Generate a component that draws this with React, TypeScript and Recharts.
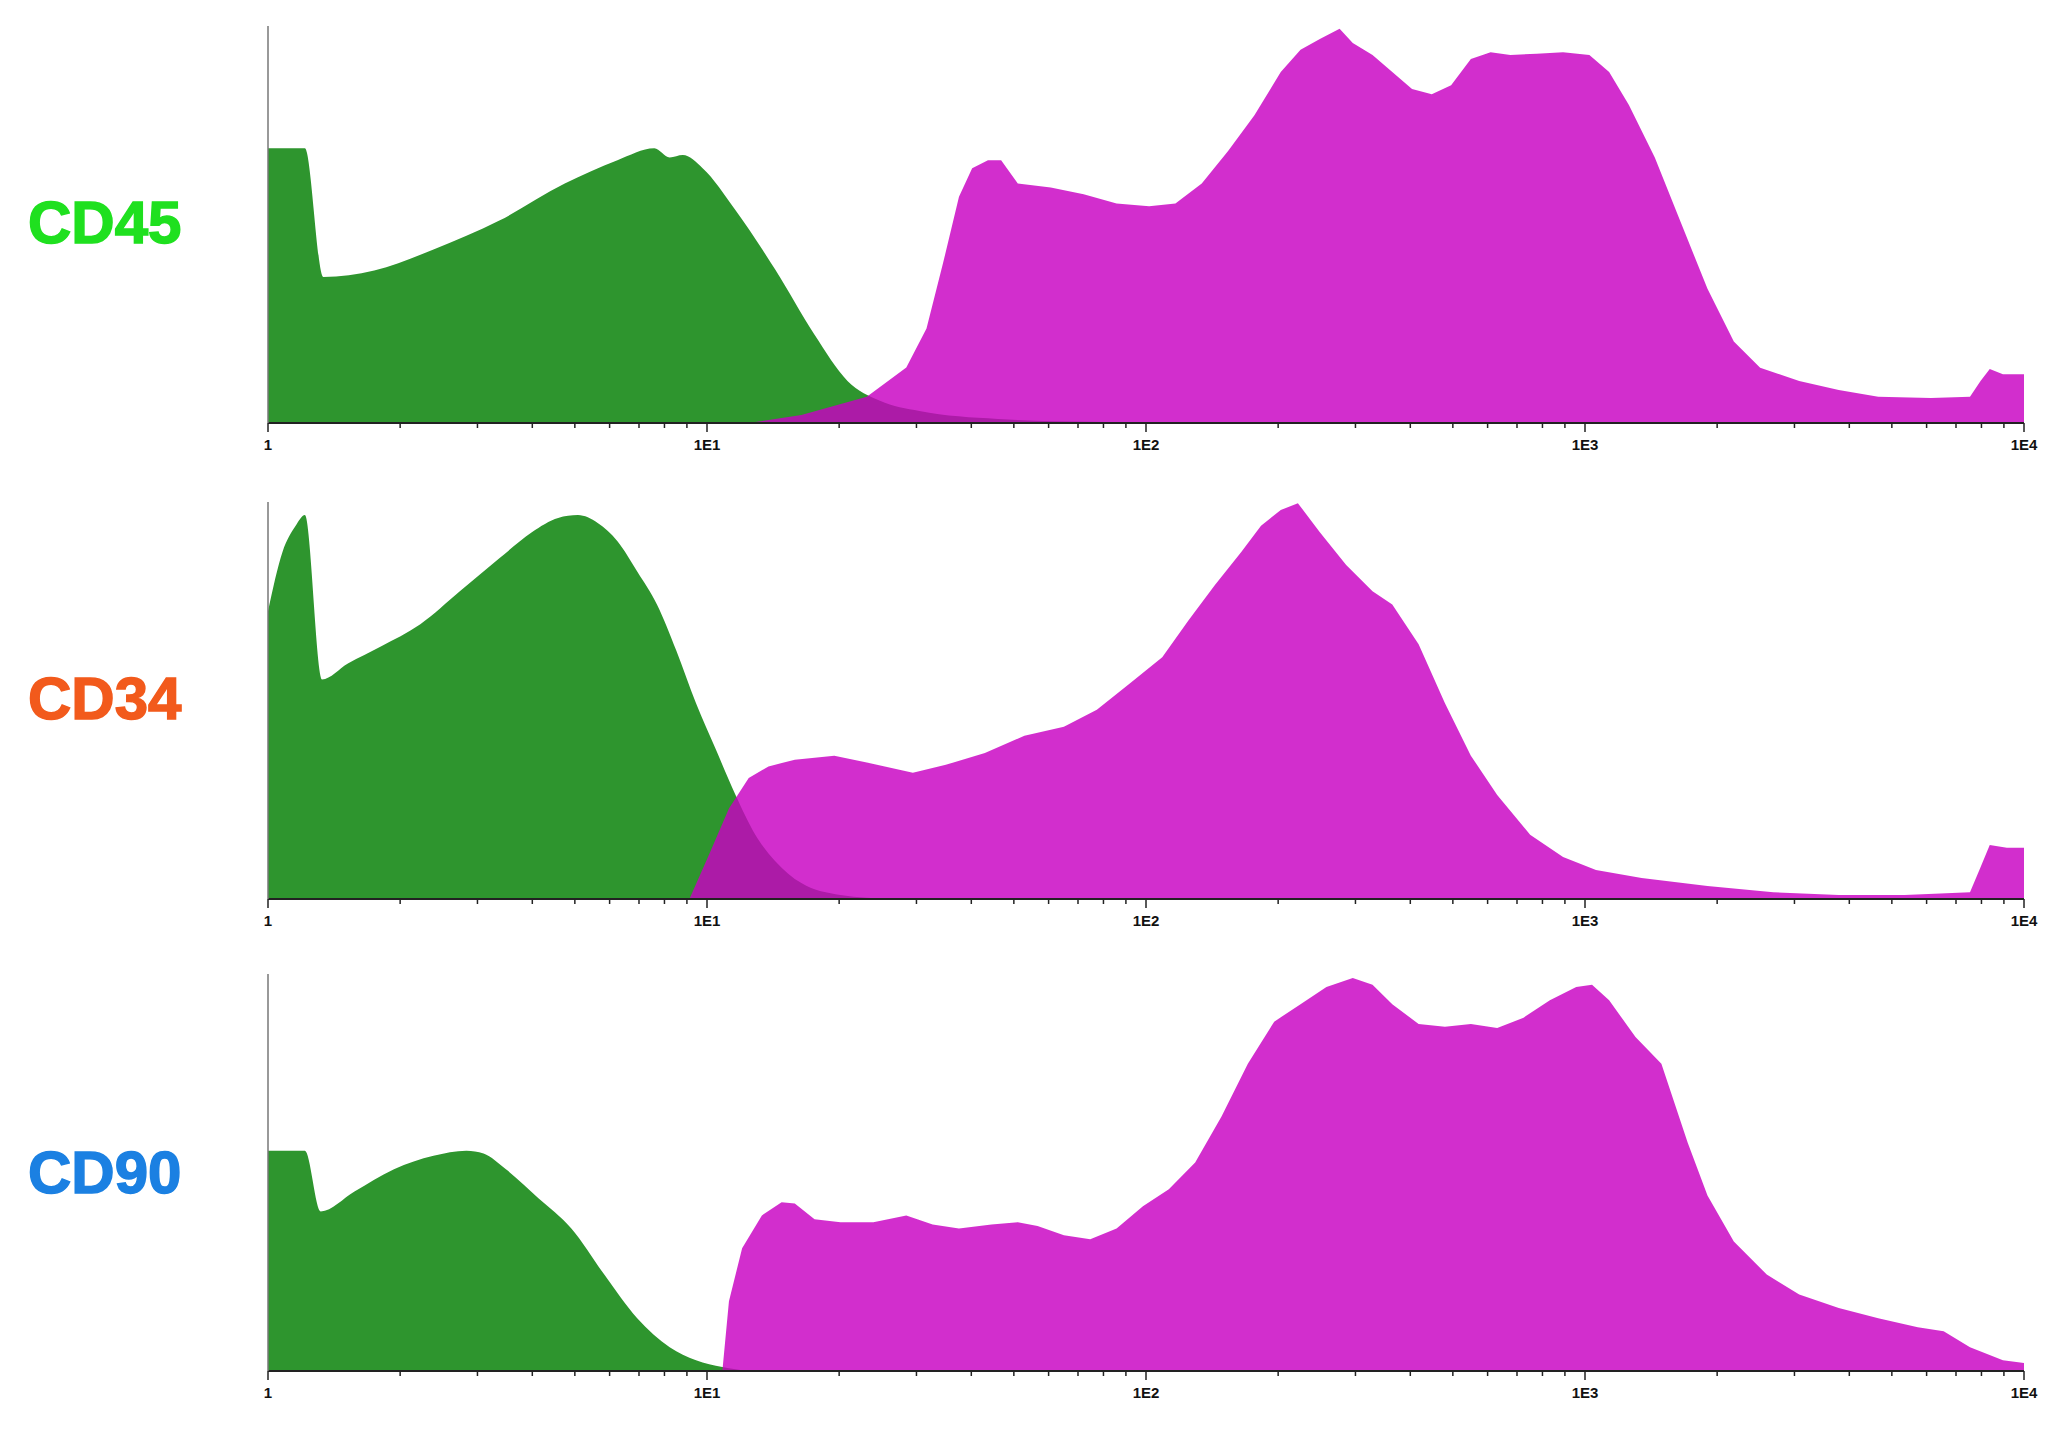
import React from 'react';
import { ComposedChart, Area, XAxis, YAxis } from 'recharts';

// x values are in decades of fluorescence (0 = 1, 4 = 1E4), y is % of panel height
const cd45NegX = [0, 0.084, 0.126, 0.242, 0.377, 0.527, 0.676, 0.796, 0.88, 0.915, 0.945, 0.99, 1.065, 1.155, 1.245, 1.32, 1.394, 1.484, 1.663, 1.873, 2.08];
const cd45NegY = [69.2, 69.2, 36.8, 38.4, 43.7, 51, 60.3, 66.2, 69.2, 66.9, 67.5, 64.2, 53.6, 38.7, 22.2, 10.6, 5.6, 3, 1, 0.3, 0];

const cd45PosX = [1.095, 1.215, 1.364, 1.454, 1.5, 1.538, 1.574, 1.604, 1.64, 1.67, 1.708, 1.783, 1.858, 1.933, 2.007, 2.067, 2.127, 2.187, 2.247, 2.307, 2.352, 2.396, 2.441, 2.471, 2.516, 2.561, 2.606, 2.651, 2.695, 2.74, 2.785, 2.83, 2.89, 2.95, 3.01, 3.055, 3.1, 3.159, 3.219, 3.279, 3.339, 3.399, 3.488, 3.578, 3.668, 3.788, 3.877, 3.901, 3.922, 3.952, 4];
const cd45PosY = [0, 2, 6.6, 14, 23.8, 40.4, 57, 64.2, 66.2, 66.2, 60.3, 59.3, 57.6, 55.3, 54.6, 55.3, 60.3, 68.5, 77.5, 88.4, 94, 96.7, 99.3, 95.7, 92.7, 88.4, 84.1, 82.8, 85.1, 91.7, 93.4, 92.7, 93, 93.4, 92.7, 88.4, 80.1, 66.9, 50.3, 33.8, 20.5, 13.9, 10.6, 8.3, 6.6, 6.3, 6.6, 10.6, 13.6, 12.3, 12.3];

const cd34NegX = [0, 0.033, 0.063, 0.084, 0.123, 0.182, 0.257, 0.347, 0.437, 0.527, 0.601, 0.661, 0.706, 0.751, 0.796, 0.841, 0.886, 0.93, 0.975, 1.02, 1.065, 1.11, 1.155, 1.215, 1.304, 1.424];
const cd34NegY = [72.5, 87.4, 94, 96.7, 55.3, 59.3, 63.6, 69.2, 77.5, 85.8, 92.4, 96, 96.7, 94.7, 90.1, 82.5, 74.2, 62.6, 49.3, 37.7, 26.2, 16.2, 9.6, 4, 1, 0];

const cd34PosX = [0.96, 1.005, 1.05, 1.095, 1.14, 1.2, 1.29, 1.364, 1.469, 1.544, 1.633, 1.723, 1.813, 1.888, 1.963, 2.037, 2.097, 2.157, 2.217, 2.262, 2.307, 2.346, 2.396, 2.456, 2.516, 2.561, 2.621, 2.681, 2.74, 2.8, 2.875, 2.95, 3.025, 3.129, 3.279, 3.429, 3.578, 3.728, 3.877, 3.901, 3.922, 3.961, 4];
const cd34PosY = [0, 11.3, 22.8, 30.5, 33.4, 35.1, 36.1, 34.4, 31.8, 33.8, 36.8, 41.1, 43.4, 47.7, 54.3, 60.9, 70.2, 79.1, 87.4, 94, 98, 99.7, 92.4, 84.1, 77.5, 74.2, 64.2, 49.3, 36.1, 26.2, 16.2, 10.6, 7.3, 5.3, 3.3, 1.7, 1, 1, 1.7, 8, 13.6, 12.9, 12.9];

const cd90NegX = [0, 0.084, 0.12, 0.197, 0.287, 0.377, 0.452, 0.491, 0.542, 0.616, 0.691, 0.766, 0.841, 0.915, 0.975, 1.035, 1.095];
const cd90NegY = [55.5, 55.5, 40.2, 45.2, 50.8, 54.2, 55.5, 54.8, 50.8, 43.5, 35.9, 24.3, 13.3, 6, 2.7, 1, 0];

const cd90PosX = [1.035, 1.05, 1.08, 1.125, 1.17, 1.2, 1.245, 1.304, 1.379, 1.454, 1.514, 1.574, 1.648, 1.708, 1.753, 1.813, 1.873, 1.933, 1.993, 2.052, 2.112, 2.172, 2.232, 2.292, 2.352, 2.411, 2.471, 2.516, 2.561, 2.621, 2.681, 2.74, 2.8, 2.86, 2.92, 2.98, 3.016, 3.055, 3.115, 3.174, 3.234, 3.279, 3.339, 3.414, 3.488, 3.578, 3.668, 3.758, 3.817, 3.877, 3.952, 4];
const cd90PosY = [0, 17.6, 30.9, 39.2, 42.5, 42.2, 38.2, 37.5, 37.5, 39.2, 36.9, 35.9, 36.9, 37.5, 36.5, 34.2, 33.2, 35.9, 41.5, 45.8, 52.5, 64.1, 77.4, 88, 92.4, 96.7, 99, 97.3, 92.4, 87.4, 86.7, 87.4, 86.4, 89, 93.4, 96.7, 97.3, 93.4, 84.1, 77.4, 57.5, 44.2, 32.6, 24.3, 19.3, 15.9, 13.3, 11, 10, 6, 2.7, 2];

const decadeLabels = ['1', '1E1', '1E2', '1E3', '1E4'];
const markerNames = ['CD45', 'CD34', 'CD90'];
const markerColors = ['#1fe01f', '#f25a1c', '#1b80e2'];

const majorTicks = [0, 1, 2, 3, 4];
const allTicks: number[] = [];
majorTicks.forEach((d) => {
  allTicks.push(d);
  if (d < 4) {
    for (let k = 2; k <= 9; k++) allTicks.push(d + Math.log10(k));
  }
});

function mergeSeries(negX: number[], negY: number[], posX: number[], posY: number[]) {
  const rows: { x: number; neg?: number; pos?: number }[] = [];
  negX.forEach((x, i) => rows.push({ x, neg: negY[i] }));
  posX.forEach((x, i) => rows.push({ x, pos: posY[i] }));
  return rows.sort((a, b) => a.x - b.x);
}

const panels = [
  { top: 16, data: mergeSeries(cd45NegX, cd45NegY, cd45PosX, cd45PosY) },
  { top: 492, data: mergeSeries(cd34NegX, cd34NegY, cd34PosX, cd34PosY) },
  { top: 964, data: mergeSeries(cd90NegX, cd90NegY, cd90PosX, cd90PosY) },
];
const labelCenters = [223, 699, 1173];

const LogTick = (props: any) => {
  const { x, y, payload } = props;
  const v = payload.value;
  const major = Math.abs(v - Math.round(v)) < 1e-6;
  return (
    <g>
      <line x1={x} x2={x} y1={y} y2={y + (major ? 9 : 5)} stroke="#222" strokeWidth={1.5} />
      {major && (
        <text
          x={x}
          y={y + 27}
          textAnchor="middle"
          fontSize={15}
          fontWeight="bold"
          fill="#111"
          fontFamily="'Liberation Sans', Arial, sans-serif"
        >
          {decadeLabels[Math.round(v)]}
        </text>
      )}
    </g>
  );
};

const GREEN = '#2e952e';
const MAGENTA = '#c800c2';

export default function App() {
  return (
    <div style={{ position: 'absolute', left: 0, top: 0, width: 2059, height: 1434, background: '#fff' }}>
      {markerNames.map((name, i) => (
        <div
          key={name}
          style={{
            position: 'absolute',
            left: 28,
            top: labelCenters[i] - 34,
            height: 68,
            lineHeight: '68px',
            fontFamily: "'Liberation Sans', Arial, sans-serif",
            fontWeight: 'bold',
            fontSize: 60,
            color: markerColors[i],
            WebkitTextStroke: `1.5px ${markerColors[i]}`,
          }}
        >
          {name}
        </div>
      ))}
      {panels.map((p, i) => (
        <div key={i} style={{ position: 'absolute', left: 0, top: p.top }}>
          <ComposedChart
            width={2059}
            height={437}
            data={p.data}
            margin={{ top: 10, right: 35, left: 266, bottom: 0 }}
          >
            <XAxis
              dataKey="x"
              type="number"
              domain={[0, 4]}
              ticks={allTicks}
              interval={0}
              tick={<LogTick />}
              tickLine={false}
              tickSize={0}
              tickMargin={0}
              height={30}
              axisLine={{ stroke: '#222', strokeWidth: 2 }}
              allowDataOverflow
            />
            <YAxis
              type="number"
              domain={[0, 100]}
              width={2}
              ticks={[0]}
              tick={false}
              tickSize={6}
              tickLine={{ stroke: '#444' }}
              axisLine={{ stroke: '#777', strokeWidth: 1.5 }}
              allowDataOverflow
            />
            <Area
              dataKey="neg"
              type="monotone"
              fill={GREEN}
              fillOpacity={1}
              stroke="none"
              connectNulls
              isAnimationActive={false}
            />
            <Area
              dataKey="pos"
              type="linear"
              fill={MAGENTA}
              fillOpacity={0.82}
              stroke="none"
              connectNulls
              isAnimationActive={false}
            />
          </ComposedChart>
        </div>
      ))}
    </div>
  );
}
